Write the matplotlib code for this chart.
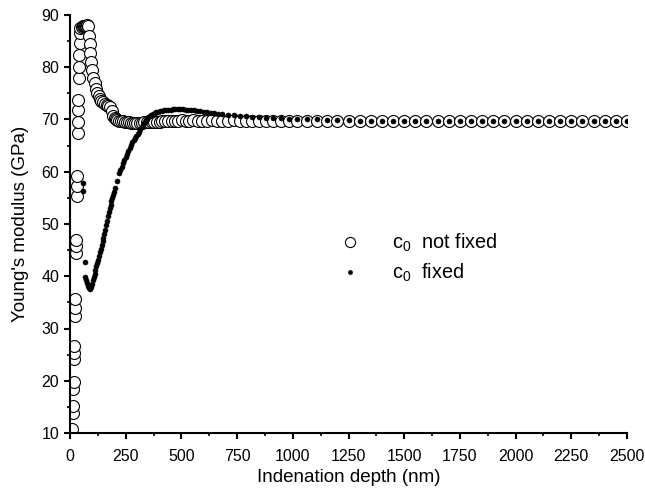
import matplotlib
matplotlib.use("Agg")
import matplotlib.pyplot as plt
from matplotlib.ticker import MultipleLocator

plt.rcParams['font.family'] = ['Liberation Sans', 'DejaVu Sans']
plt.rcParams['mathtext.fontset'] = 'custom'
plt.rcParams['mathtext.rm'] = 'Liberation Sans'
plt.rcParams['mathtext.it'] = 'Liberation Sans'
plt.rcParams['mathtext.default'] = 'regular'

# ---- data: c0 not fixed (open circles) ----
depth_open = [
    10, 12, 13, 15, 16, 18, 19, 20, 22, 23,
    24, 26, 27, 28, 30, 31, 32, 34, 35, 36,
    37, 39, 40, 41, 43, 45, 47, 52, 57, 62,
    67, 72, 77, 82, 86, 89, 92, 96, 100, 105,
    110, 116, 122, 128, 134, 141, 148, 156, 164, 172,
    180, 188, 195, 201, 207, 213, 220, 228, 236, 245,
    254, 263, 272, 282, 292, 302, 312, 322, 333, 344,
    355, 366, 378, 390, 402, 415, 428, 442, 456, 471,
    486, 502, 519, 536, 554, 573, 593, 614, 636, 659,
    683, 708, 734, 761, 789, 818, 848, 880, 913, 947,
    982, 1020, 1065, 1110, 1155, 1200, 1250, 1300, 1350, 1400,
    1450, 1500, 1550, 1600, 1650, 1700, 1750, 1800, 1850, 1900,
    1950, 2000, 2050, 2100, 2150, 2200, 2250, 2300, 2350, 2400,
    2450, 2500]
E_open = [
    10.7, 13.9, 15.2, 18.4, 19.7, 24.1, 25.4, 26.7, 32.4, 34.0,
    35.6, 44.5, 45.7, 47.0, 55.3, 57.2, 59.1, 67.4, 69.6, 71.9,
    73.8, 77.9, 80.1, 82.4, 84.6, 86.5, 87.5, 87.7, 87.8, 87.8,
    87.9, 87.9, 88.0, 87.9, 86.0, 84.4, 82.8, 81.0, 79.5, 78.0,
    76.9, 75.9, 75.1, 74.5, 74.0, 73.6, 73.3, 73.0, 72.8, 72.6,
    72.3, 71.6, 70.6, 70.2, 70.0, 69.9, 69.8, 69.7, 69.7, 69.6,
    69.5, 69.5, 69.4, 69.4, 69.4, 69.4, 69.4, 69.4, 69.5, 69.5,
    69.5, 69.5, 69.6, 69.6, 69.6, 69.7, 69.7, 69.7, 69.8, 69.8,
    69.8, 69.9, 69.8, 69.8, 69.9, 69.8, 69.8, 69.8, 69.9, 69.8,
    69.8, 69.8, 69.9, 69.8, 69.8, 69.8, 69.7, 69.8, 69.8, 69.8,
    69.8, 69.7, 69.8, 69.8, 69.8, 69.7, 69.8, 69.8, 69.7, 69.8,
    69.8, 69.8, 69.7, 69.8, 69.8, 69.8, 69.7, 69.8, 69.8, 69.8,
    69.7, 69.8, 69.8, 69.7, 69.8, 69.8, 69.8, 69.7, 69.8, 69.8,
    69.8, 69.8]

# ---- data: c0 fixed (filled dots) ----
depth_fixed = [
    57, 59, 66, 67, 72, 77, 82, 87, 90, 94,
    98, 102, 106, 110, 114, 118, 122, 126, 130, 134,
    138, 142, 146, 150, 154, 158, 162, 166, 170, 174,
    178, 182, 186, 190, 194, 198, 202, 212, 222, 226,
    232, 238, 244, 250, 256, 262, 268, 274, 280, 286,
    292, 298, 304, 310, 316, 322, 328, 334, 340, 346,
    352, 358, 365, 372, 380, 388, 396, 405, 414, 423,
    432, 442, 452, 462, 473, 484, 495, 507, 519, 531,
    544, 557, 571, 585, 600, 615, 631, 648, 666, 683,
    708, 734, 761, 789, 818, 848, 880, 913, 947, 982,
    1020, 1065, 1110, 1155, 1200, 1250, 1300, 1350, 1400, 1450,
    1500, 1550, 1600, 1650, 1700, 1750, 1800, 1850, 1900, 1950,
    2000, 2050, 2100, 2150, 2200, 2250, 2300, 2350, 2400, 2450,
    2500]
E_fixed = [
    57.8, 56.4, 42.8, 39.9, 39.3, 38.7, 38.2, 37.7, 37.6, 38.0,
    38.6, 39.2, 39.8, 40.5, 41.2, 41.9, 42.6, 43.2, 43.9, 44.6,
    45.3, 46.0, 46.7, 47.4, 48.1, 48.9, 49.8, 50.6, 51.5, 52.3,
    53.0, 53.7, 54.4, 55.0, 55.6, 56.2, 56.8, 58.2, 59.7, 60.3,
    61.0, 61.6, 62.2, 62.8, 63.4, 64.0, 64.6, 65.1, 65.6, 66.1,
    66.5, 66.9, 67.3, 67.7, 68.1, 68.5, 68.9, 69.3, 69.8, 70.1,
    70.4, 70.7, 70.9, 71.1, 71.3, 71.4, 71.5, 71.6, 71.7, 71.8,
    71.85, 71.9, 71.9, 72.0, 72.0, 72.0, 72.0, 72.0, 71.9, 71.9,
    71.8, 71.8, 71.7, 71.6, 71.5, 71.4, 71.3, 71.2, 71.1, 71.0,
    70.9, 70.8, 70.7, 70.6, 70.5, 70.4, 70.3, 70.3, 70.2, 70.1,
    70.1, 70.0, 70.0, 69.9, 69.9, 69.9, 69.8, 69.8, 69.8, 69.8,
    69.8, 69.8, 69.7, 69.8, 69.8, 69.8, 69.7, 69.8, 69.8, 69.8,
    69.7, 69.8, 69.8, 69.7, 69.8, 69.8, 69.8, 69.7, 69.8, 69.8,
    69.8]

labels = ['c$_0$  not fixed', 'c$_0$  fixed']

fig = plt.figure(figsize=(6.45, 4.88), dpi=100)
ax = fig.add_axes([70/645, 1 - 433/488, 557/645, 418/488])

ax.plot(depth_open, E_open, linestyle='none', marker='o', markersize=8.6,
        markerfacecolor='white', markeredgecolor='black', markeredgewidth=0.8,
        label=labels[0], zorder=2)
ax.plot(depth_fixed, E_fixed, linestyle='none', marker='o', markersize=3.7,
        markerfacecolor='black', markeredgecolor='black', markeredgewidth=0.3,
        label=labels[1], zorder=3)

ax.set_xlim(0, 2500)
ax.set_ylim(10, 90)
ax.xaxis.set_major_locator(MultipleLocator(250))
ax.xaxis.set_minor_locator(MultipleLocator(125))
ax.yaxis.set_major_locator(MultipleLocator(10))
ax.yaxis.set_minor_locator(MultipleLocator(5))

for s in ['top', 'right']:
    ax.spines[s].set_visible(False)
for s in ['left', 'bottom']:
    ax.spines[s].set_linewidth(1.5)

ax.tick_params(which='major', direction='out', length=4.3, width=1.5,
               labelsize=11.5)
ax.tick_params(which='minor', direction='out', length=2.3, width=1.2)
ax.tick_params(axis='x', which='major', pad=7)
ax.tick_params(axis='y', which='major', pad=3.6)

ax.set_xlabel('Indenation depth (nm)', fontsize=13.5, labelpad=4)
ax.set_ylabel("Young's modulus (GPa)", fontsize=13.5, labelpad=9)

leg = ax.legend(loc='center left', bbox_to_anchor=((340 - 70) / 557, (433 - 258) / 418),
                frameon=False, fontsize=14.3, handlelength=1.0, handletextpad=1.6,
                borderpad=0, borderaxespad=0, labelspacing=0.4, markerscale=0.85)

fig.savefig('out.png', dpi=100)
